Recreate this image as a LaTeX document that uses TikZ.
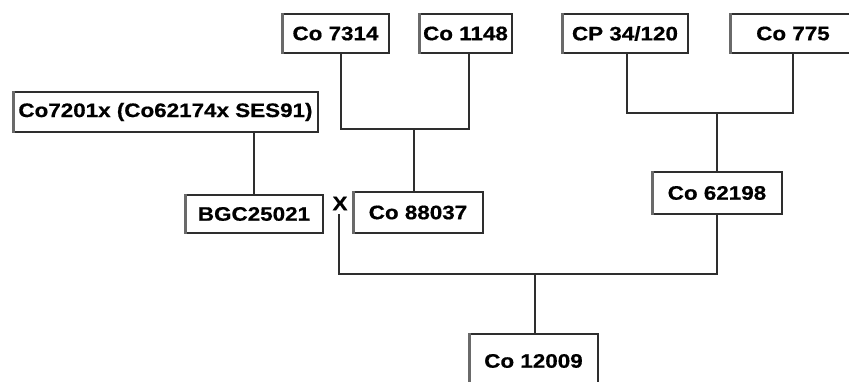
\documentclass[tikz,border=0pt]{standalone}
\usepackage{fontspec}
\setmainfont[FakeStretch=1.15,FakeBold=0.6]{Liberation Sans}
\definecolor{edge}{HTML}{2E2E2E}
\definecolor{shade}{HTML}{6A6A6A}
\tikzset{
  box/.style={draw=edge, line width=1.3pt, fill=white, inner sep=0pt, align=center,
    font=\fontsize{19.5}{21}\selectfont\bfseries},
  conn/.style={draw=edge, line width=1.3pt},
  leftedge/.style={draw=shade, line width=3pt},
  xlab/.style={inner sep=0pt, font=\fontsize{19.5}{21}\selectfont\bfseries}
}
\begin{document}
\begin{tikzpicture}[x=1pt,y=-1pt]
\useasboundingbox[fill=white] (0,0) rectangle (849,382);
\node[box, minimum width=107, minimum height=39] (c7314) at (335.5,33.5) {Co 7314};
\node[box, minimum width=93, minimum height=39] (c1148) at (465.5,33.5) {Co 1148};
\node[box, minimum width=126, minimum height=39] (cp) at (625,33.5) {CP 34/120};
\node[box, minimum width=126, minimum height=39] (c775) at (793,33.5) {Co 775};
\node[box, minimum width=305, minimum height=40] (c7201) at (165.5,112) {Co7201x (Co62174x SES91)};
\node[box, minimum width=138, minimum height=38] (bgc) at (254,214) {BGC25021};
\node[xlab] (xmark) at (340,203.5) {X};
\node[box, minimum width=130, minimum height=41] (c88037) at (418,212.5) {Co 88037};
\node[box, minimum width=130, minimum height=42] (c62198) at (717,193) {Co 62198};
\node[box, minimum width=129, minimum height=54] (c12009) at (533.5,361) {Co 12009};
\foreach \n in {c7314,c1148,cp,c775,c7201,bgc,c88037,c62198,c12009}
  \draw[leftedge] ([xshift=1.5pt]\n.north west) -- ([xshift=1.5pt]\n.south west);
\coordinate (j1) at (414,129);
\coordinate (j2) at (717,113);
\coordinate (j3) at (535,274);
\draw[conn] ([xshift=5.5pt]c7314.south) |- (j1) -| ([xshift=3.5pt]c1148.south);
\draw[conn] (j1) -- (j1 |- c88037.north);
\draw[conn] ([xshift=2pt]cp.south) |- (j2) -| (c775.south);
\draw[conn] (j2) -- (c62198.north);
\draw[conn] (bgc.north |- c7201.south) -- (bgc.north);
\draw[conn] ([xshift=-1pt,yshift=-4pt]xmark.south) |- (j3) -| (c62198.south);
\draw[conn] (j3) -- (j3 |- c12009.north);
\end{tikzpicture}
\end{document}
